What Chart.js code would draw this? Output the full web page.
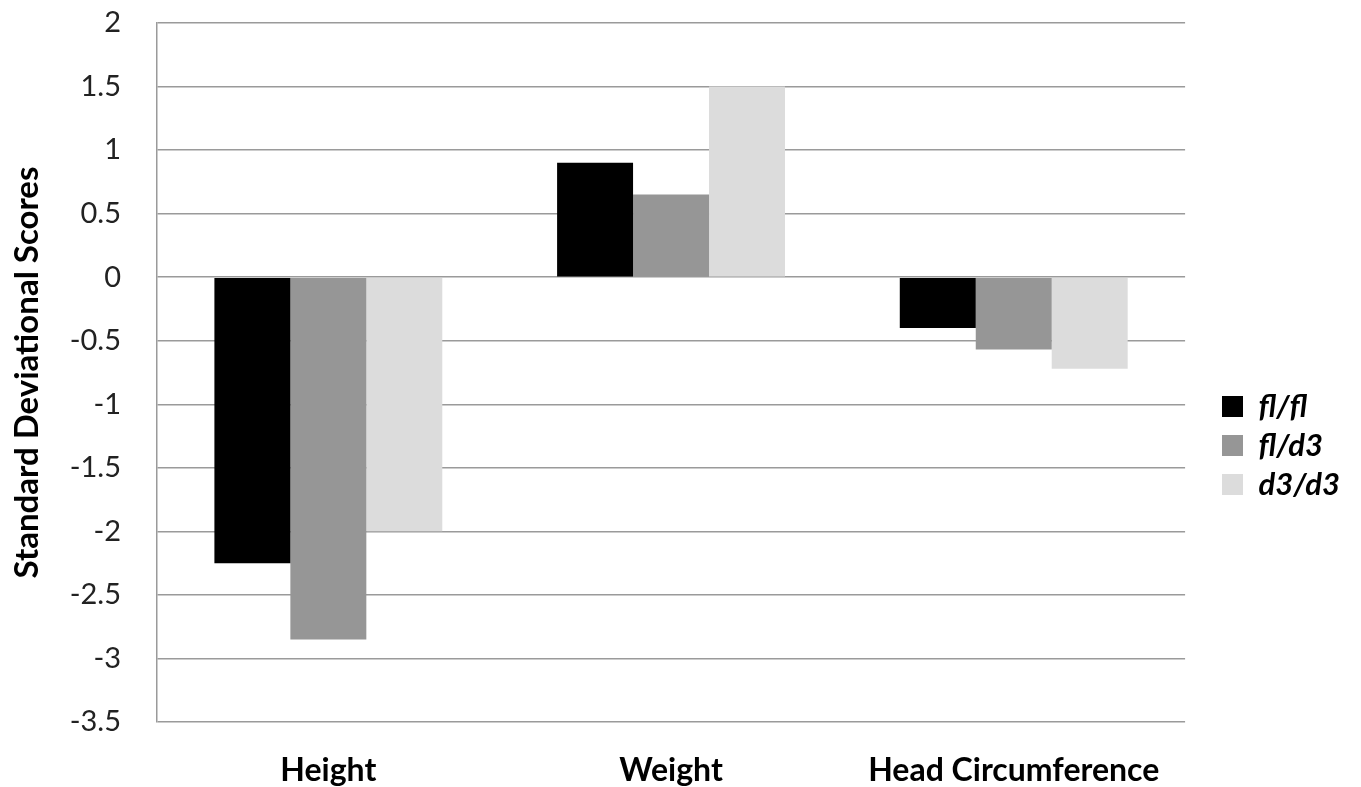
<!DOCTYPE html>
<html>
<head>
<meta charset="utf-8">
<script src="https://cdn.jsdelivr.net/npm/chart.js@4.4.0/dist/chart.umd.min.js"></script>
<style>
  body { margin: 0; background: #fff; }
</style>
</head>
<body>
<canvas id="chart" width="1361" height="787"></canvas>
<script>
// data
const categories = ['Height', 'Weight', 'Head Circumference'];
const seriesNames = ['fl/fl', 'fl/d3', 'd3/d3'];
const flfl = [-2.25, 0.9, -0.4];
const fld3 = [-2.85, 0.65, -0.57];
const d3d3 = [-2.0, 1.5, -0.72];
const yMin = -3.5;
const yMax = 2;
const yStep = 0.5;

const colors = ['#000000', '#969696', '#dcdcdc'];
const font = 'Lato';

// put the legend where the original has it (box left at 1222, first row centred ~407)
const legendPlace = {
  id: 'legendPlace',
  afterLayout(chart) {
    const lg = chart.legend;
    const pad = lg.options.labels.padding;
    const dx = 1222 - pad - lg.left;
    const h = lg.bottom - lg.top;
    lg.left += dx; lg.right += dx;
    lg.top = 407 - pad - 16;
    lg.bottom = lg.top + h;
  }
};

new Chart(document.getElementById('chart'), {
  type: 'bar',
  data: {
    labels: categories,
    datasets: [flfl, fld3, d3d3].map((d, i) => ({
      label: seriesNames[i],
      data: d,
      backgroundColor: colors[i],
      borderWidth: 0,
      categoryPercentage: 0.665,
      barPercentage: 1
    }))
  },
  options: {
    responsive: false,
    animation: false,
    layout: { padding: { top: 23, right: 40, left: 0, bottom: 0 } },
    plugins: {
      tooltip: { enabled: false },
      legend: {
        position: 'right',
        align: 'start',
        labels: {
          boxWidth: 21,
          boxHeight: 21,
          padding: 8,
          color: '#000',
          font: { family: font, size: 31, style: 'italic', weight: 'bold' }
        }
      }
    },
    scales: {
      x: {
        grid: { display: false },
        border: { display: false },
        ticks: { color: '#000', padding: 21, font: { family: font, size: 32, weight: 'bold' } },
        afterFit(s) { s.height = 65; s.paddingLeft = 0; s.paddingRight = 0; }
      },
      y: {
        min: yMin,
        max: yMax,
        ticks: {
          stepSize: yStep,
          color: '#222',
          padding: 36,
          font: { family: font, size: 29 },
          callback: v => String(v)
        },
        grid: { color: '#9a9a9a', lineWidth: 1.5, drawTicks: false },
        border: { display: true, color: '#9a9a9a', width: 1.5 },
        title: {
          display: true,
          text: 'Standard Deviational Scores',
          color: '#000',
          font: { family: font, size: 33, weight: 'bold' },
          padding: { top: 8, bottom: 0 }
        },
        afterFit(s) { s.width = 157; s.paddingTop = 0; s.paddingBottom = 0; }
      }
    }
  },
  plugins: [legendPlace]
});
</script>
</body>
</html>
